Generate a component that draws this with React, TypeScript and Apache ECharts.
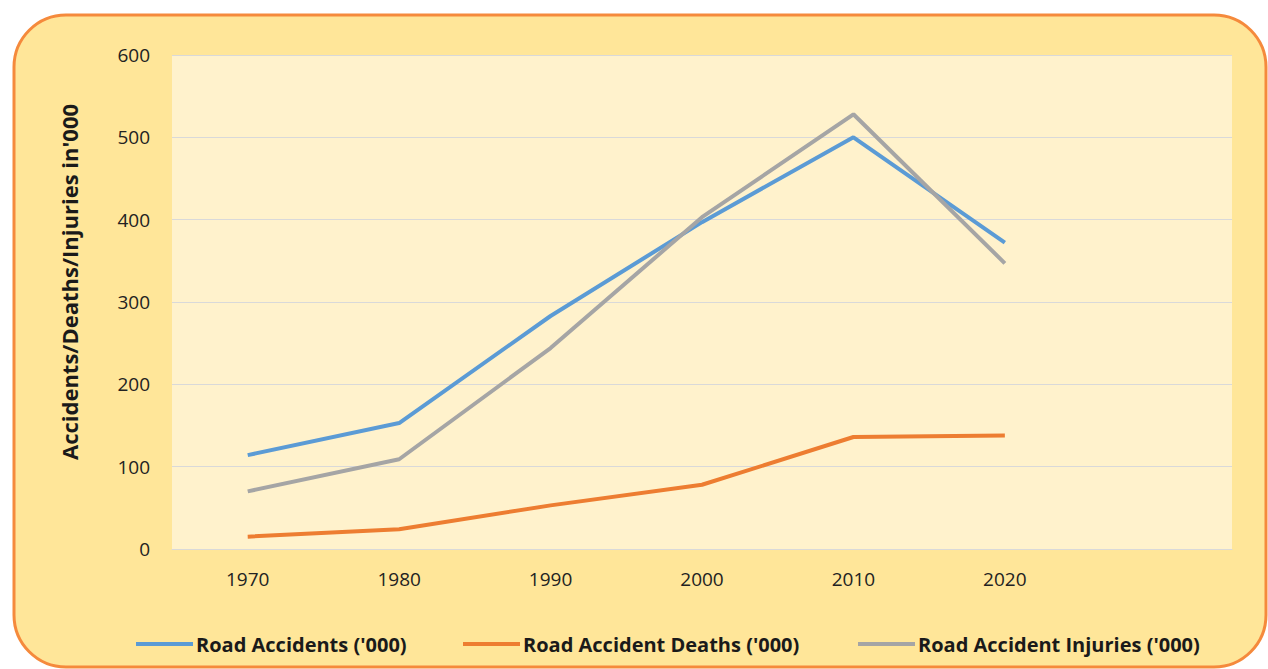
import React, { useEffect, useRef } from "react";
import * as echarts from "echarts";

const categories = ["1970", "1980", "1990", "2000", "2010", "2020", ""];
const roadAccidents = [114, 153, 283, 397, 500, 372];
const roadDeaths = [15, 24, 53, 78, 136, 138];
const roadInjuries = [70, 109, 244, 403, 528, 347];
const seriesNames = ["Road Accidents ('000)", "Road Accident Deaths ('000)", "Road Accident Injuries ('000)"];
const seriesColors = ["#5B9BD5", "#ED7D31", "#A5A5A5"];

const FONT = "'Open Sans', 'Noto Sans', sans-serif";
const legendLefts = [136, 463, 858];

export default function App() {
  const ref = useRef<HTMLDivElement>(null);
  useEffect(() => {
    if (!ref.current) return;
    const chart = echarts.init(ref.current, null, { renderer: "svg" });
    const values = [roadAccidents, roadDeaths, roadInjuries];
    chart.setOption({
      animation: false,
      graphic: [
        {
          type: "rect",
          z: -10,
          silent: true,
          shape: { x: 14, y: 15, width: 1252, height: 652, r: 52 },
          style: { fill: "#FFE699", stroke: "#F58A3C", lineWidth: 3 },
        },
      ],
      grid: {
        left: 172,
        right: 36,
        top: 55,
        bottom: 120,
        show: true,
        backgroundColor: "#FFF2CC",
        borderWidth: 0,
      },
      legend: seriesNames.map((n, i) => ({
        top: 634,
        left: legendLefts[i],
        padding: 0,
        itemWidth: 57,
        itemHeight: 4,
        icon: "rect",
        textStyle: { fontFamily: FONT, fontSize: 20, fontWeight: "bold", color: "#1a1a1a", padding: [0, 0, 0, -2] },
        data: [n],
      })),
      xAxis: {
        type: "category",
        data: categories,
        boundaryGap: true,
        axisLine: { lineStyle: { color: "#D9D9D9" } },
        axisTick: { show: false },
        axisLabel: { fontFamily: FONT, fontSize: 19, color: "#222", margin: 20 },
      },
      yAxis: {
        type: "value",
        min: 0,
        max: 600,
        interval: 100,
        name: "Accidents/Deaths/Injuries in'000",
        nameLocation: "middle",
        nameGap: 92,
        nameRotate: 90,
        nameTextStyle: {
          fontFamily: FONT,
          fontSize: 22,
          fontWeight: "bold",
          color: "#1a1a1a",
          padding: [0, 0, 0, 40],
        },
        axisLine: { show: false },
        axisTick: { show: false },
        axisLabel: { fontFamily: FONT, fontSize: 19, color: "#222", margin: 22 },
        splitLine: { lineStyle: { color: "#D9D9D9", width: 1 } },
      },
      series: seriesNames.map((n, i) => ({
        name: n,
        type: "line",
        data: values[i],
        symbol: "none",
        lineStyle: { color: seriesColors[i], width: 4 },
        itemStyle: { color: seriesColors[i] },
      })),
    });
    return () => chart.dispose();
  }, []);
  return (
    <div
      ref={ref}
      style={{ position: "fixed", left: 0, top: 0, width: 1268, height: 669, background: "#ffffff" }}
    />
  );
}
